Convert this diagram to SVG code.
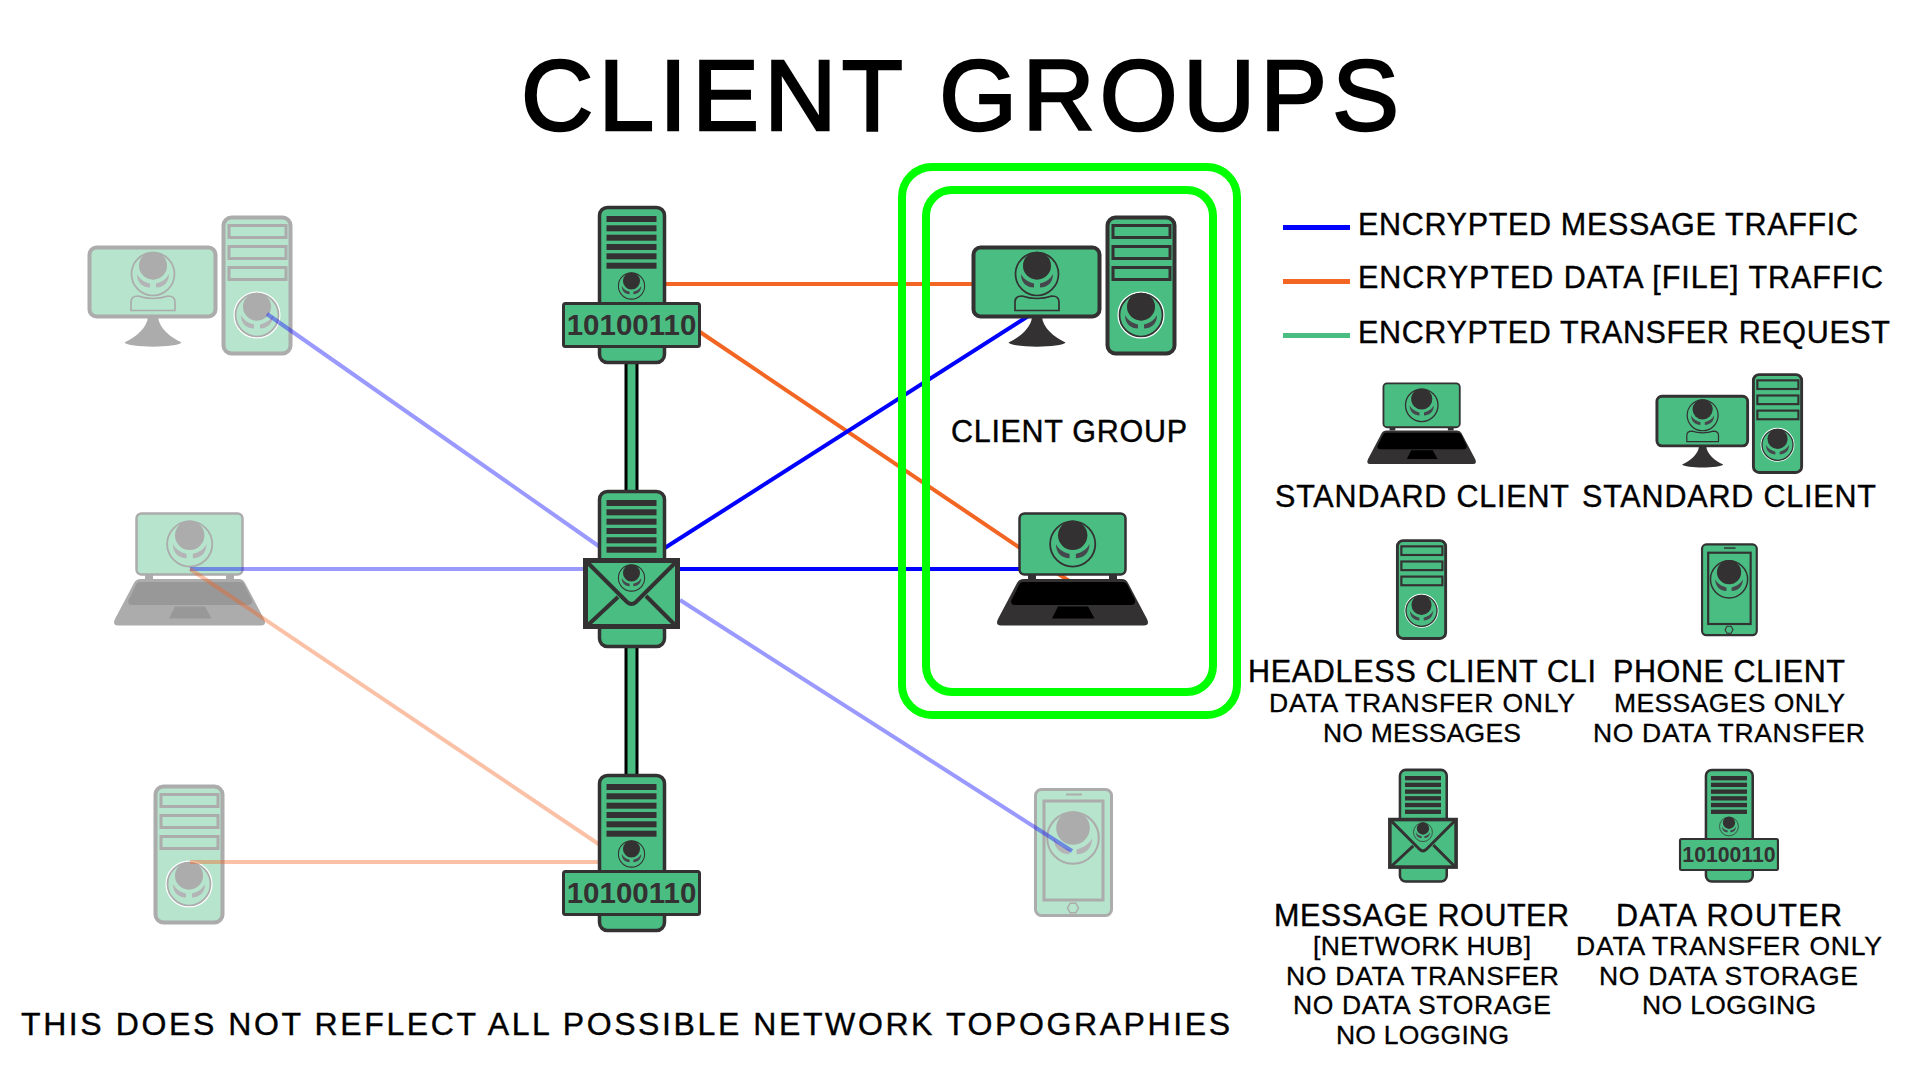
<svg xmlns="http://www.w3.org/2000/svg" width="1920" height="1080" viewBox="0 0 1920 1080">
<style>
text{font-family:"Liberation Sans",Arial,sans-serif;fill:#000}
.title{font-size:100px;stroke:#000;stroke-width:2.500}
.h{font-size:30.500px;stroke:#000;stroke-width:.4}
.b{font-size:32px;stroke:#000;stroke-width:.4}
.s{font-size:26.500px;stroke:#000;stroke-width:.3}
.g{fill:#4abd82;stroke:#333132}
.d{fill:#333132}
.n{fill:none;stroke:#333132}
.bin{font-size:29.500px;font-weight:bold;fill:#333132;text-anchor:middle}
.blue{stroke:#00f;stroke-width:4;fill:none}
.orange{stroke:#f26522;stroke-width:4;fill:none}
.blueg{stroke:#00f;stroke-width:4;stroke-opacity:.4;fill:none}
.orangeg{stroke:#f26522;stroke-width:4;stroke-opacity:.4;fill:none}
.ghost{opacity:.4}
.box{fill:none;stroke:#0f0;stroke-width:8}
</style>
<defs>
<g id="logo">
<circle r="21.500" fill="none" stroke="#333132" stroke-width="1.700"/>
<circle cy="-8.300" r="14" class="d"/>
<path d="M-16 0C-13 6-8 8-3 9.500L-3 13.500C-10 13.500-16 9-16 0ZM16 0C13 6 8 8 3 9.500L3 13.500C10 13.500 16 9 16 0Z" fill="#46474d"/>
</g>
<g id="ic-monitor">
<path class="d" d="M1032 317C1031 328 1020 337 1008.500 342.500C1012 348 1062 348 1065.500 342.500C1054 337 1043 328 1042 317Z"/>
<rect class="g" x="973.500" y="247.500" width="126" height="69" rx="7" stroke-width="4"/>
<use href="#logo" transform="translate(1037 274)"/>
<path class="n" stroke-width="1.700" d="M1015 310.500V302Q1015 296 1022 296Q1037 301 1052 296Q1059 296 1059 302V310.500Z"/>
</g>
<g id="ic-tower">
<rect class="g" x="1107.500" y="217.500" width="67" height="136" rx="8" stroke-width="4"/>
<rect class="g" x="1113" y="225.500" width="57" height="12" stroke-width="3"/>
<rect class="g" x="1113" y="246.500" width="57" height="12" stroke-width="3"/>
<rect class="g" x="1113" y="267.500" width="57" height="12" stroke-width="3"/>
<circle cx="1141" cy="315" r="22.800" fill="none" stroke="#fff" stroke-width="1.500"/>
<use href="#logo" transform="translate(1141 315)"/>
</g>
<g id="ic-laptop">
<path class="d" d="M1028 574h8v5h-8zM1109 574h8v5h-8z"/>
<path class="d" d="M1024 579H1122Q1126 579 1128 583L1147 619Q1150 625.500 1144 625.500H1001Q995 625.500 998 619L1017 583Q1019 579 1024 579Z"/>
<path d="M1023 582H1123Q1126 582 1127.500 585L1135 600Q1136 605 1131 605H1015Q1010 605 1011.500 600L1019 585Q1020 582 1023 582Z" fill="#000"/>
<path d="M1058 606.500H1088L1094.500 618.500H1052Z" fill="#000"/>
<rect class="g" x="1019.500" y="513.500" width="106" height="61" rx="5" stroke-width="2.500"/>
<use href="#logo" transform="translate(1072.700 544) scale(1.050)"/>
</g>
<g id="ic-phone">
<rect class="g" x="1035.500" y="789.500" width="76" height="126" rx="6" stroke-width="3"/>
<rect class="g" x="1044" y="801" width="59" height="99" stroke-width="3"/>
<path class="n" stroke-width="2" d="M1066 794.500H1082"/>
<path class="n" stroke-width="1.500" d="M1067.500 908L1070.200 903.200H1075.800L1078.500 908L1075.800 912.800H1070.200Z"/>
<use href="#logo" transform="translate(1073 838) scale(1.200)"/>
</g>
<g id="bars">
<rect class="d" x="606.500" y="216" width="50" height="6"/>
<rect class="d" x="606.500" y="225.300" width="50" height="6"/>
<rect class="d" x="606.500" y="234.700" width="50" height="6"/>
<rect class="d" x="606.500" y="244" width="50" height="6"/>
<rect class="d" x="606.500" y="253.300" width="50" height="6"/>
<rect class="d" x="606.500" y="262.700" width="50" height="6"/>
</g>
<g id="ic-data">
<rect class="g" x="599.500" y="207.500" width="65" height="155" rx="8" stroke-width="3.500"/>
<use href="#bars"/>
<use href="#logo" transform="translate(631.500 286) scale(.61)"/>
<rect class="g" x="563.500" y="303.500" width="136" height="43" rx="2" stroke-width="3"/>
<text class="bin" x="631.500" y="335">10100110</text>
</g>
<g id="ic-msg">
<rect class="g" x="599.500" y="491.500" width="65" height="155" rx="8" stroke-width="3.500"/>
<use href="#bars" transform="translate(0 284)"/>
<rect class="g" x="585.500" y="560.500" width="92" height="66" stroke-width="5"/>
<path class="n" stroke-width="4" d="M587 562L627 602Q631.500 606 636 602L676 562M588 625L618 597M675 625L646 596"/>
<use href="#logo" transform="translate(631.500 578) scale(.61)"/>
</g>
</defs>

<g id="ghost-desktop" class="ghost"><use href="#ic-monitor" transform="translate(-884 0)"/><use href="#ic-tower" transform="translate(-884 0)"/></g>
<g id="ghost-laptop" class="ghost"><use href="#ic-laptop" transform="translate(-883 0)"/></g>
<g id="ghost-headless" class="ghost"><use href="#ic-tower" transform="translate(-952 569)"/></g>
<g id="ghost-phone" class="ghost"><use href="#ic-phone"/></g>

<g id="connectors">
<path class="orange" d="M665 284H972"/>
<path class="orange" d="M700 332L1072 583"/>
<path class="blue" d="M660 551L1030 315"/>
<path class="blue" d="M680 569H1020"/>
<path class="blueg" d="M267 314L600 547"/>
<path class="blueg" d="M190 569H583"/>
<path class="blueg" d="M680 600L1072 851"/>
<path class="orangeg" d="M190 569L600 845"/>
<path class="orangeg" d="M190 862H600"/>
<path d="M631.500 363V491M631.500 647V775" stroke="#000" stroke-width="14" fill="none"/>
<path d="M631.500 363V491M631.500 647V775" stroke="#4abd82" stroke-width="8" fill="none"/>
</g>

<g id="client-group-boxes">
<rect class="box" x="902" y="167" width="335" height="548" rx="30"/>
<rect class="box" x="926" y="190" width="287" height="502" rx="26"/>
</g>

<g id="router-data-top"><use href="#ic-data"/></g>
<g id="router-message"><use href="#ic-msg"/></g>
<g id="router-data-bottom"><use href="#ic-data" transform="translate(0 568)"/></g>
<g id="client-desktop"><use href="#ic-monitor"/><use href="#ic-tower"/></g>
<g id="client-laptop"><use href="#ic-laptop"/></g>

<g id="legend-lines">
<rect x="1283" y="225" width="67" height="5" fill="#00f"/>
<rect x="1283" y="279" width="67" height="5" fill="#f26522"/>
<rect x="1283" y="333" width="67" height="5" fill="#4abd82"/>
</g>
<g id="legend-laptop"><use href="#ic-laptop" transform="translate(649.400 13.600) scale(.72)"/></g>
<g id="legend-desktop"><g transform="translate(956 218) scale(.72)"><use href="#ic-monitor"/><use href="#ic-tower"/></g></g>
<g id="legend-headless"><use href="#ic-tower" transform="translate(600 384) scale(.72)"/></g>
<g id="legend-phone"><use href="#ic-phone" transform="translate(956.500 -24) scale(.72)"/></g>
<g id="legend-message"><use href="#ic-msg" transform="translate(968.300 416) scale(.72)"/></g>
<g id="legend-data"><use href="#ic-data" transform="translate(1274.300 620.500) scale(.72)"/></g>

<g id="labels">
<text class="title" x="521" y="130" textLength="878" lengthAdjust="spacing">CLIENT GROUPS</text>
<text class="h" x="1358" y="235" textLength="500" lengthAdjust="spacing">ENCRYPTED MESSAGE TRAFFIC</text>
<text class="h" x="1358" y="288" textLength="525" lengthAdjust="spacing">ENCRYPTED DATA [FILE] TRAFFIC</text>
<text class="h" x="1358" y="343" textLength="532" lengthAdjust="spacing">ENCRYPTED TRANSFER REQUEST</text>
<text class="h" x="951" y="442" textLength="236" lengthAdjust="spacing">CLIENT GROUP</text>
<text class="h" x="1275" y="507" textLength="294" lengthAdjust="spacing">STANDARD CLIENT</text>
<text class="h" x="1582" y="507" textLength="294" lengthAdjust="spacing">STANDARD CLIENT</text>
<text class="h" x="1248" y="682" textLength="348" lengthAdjust="spacing">HEADLESS CLIENT CLI</text>
<text class="h" x="1613" y="682" textLength="232" lengthAdjust="spacing">PHONE CLIENT</text>
<text class="s" x="1269" y="712" textLength="306" lengthAdjust="spacing">DATA TRANSFER ONLY</text>
<text class="s" x="1323" y="742" textLength="198" lengthAdjust="spacing">NO MESSAGES</text>
<text class="s" x="1614" y="712" textLength="231" lengthAdjust="spacing">MESSAGES ONLY</text>
<text class="s" x="1593" y="742" textLength="272" lengthAdjust="spacing">NO DATA TRANSFER</text>
<text class="h" x="1274" y="926" textLength="295" lengthAdjust="spacing">MESSAGE ROUTER</text>
<text class="h" x="1616" y="926" textLength="226" lengthAdjust="spacing">DATA ROUTER</text>
<text class="s" x="1313" y="955" textLength="218" lengthAdjust="spacing">[NETWORK HUB]</text>
<text class="s" x="1286" y="985" textLength="273" lengthAdjust="spacing">NO DATA TRANSFER</text>
<text class="s" x="1293" y="1014" textLength="258" lengthAdjust="spacing">NO DATA STORAGE</text>
<text class="s" x="1336" y="1044" textLength="173" lengthAdjust="spacing">NO LOGGING</text>
<text class="s" x="1576" y="955" textLength="306" lengthAdjust="spacing">DATA TRANSFER ONLY</text>
<text class="s" x="1599" y="985" textLength="259" lengthAdjust="spacing">NO DATA STORAGE</text>
<text class="s" x="1642" y="1014" textLength="174" lengthAdjust="spacing">NO LOGGING</text>
<text class="b" x="21" y="1035" textLength="1209" lengthAdjust="spacing">THIS DOES NOT REFLECT ALL POSSIBLE NETWORK TOPOGRAPHIES</text>
</g>
</svg>
